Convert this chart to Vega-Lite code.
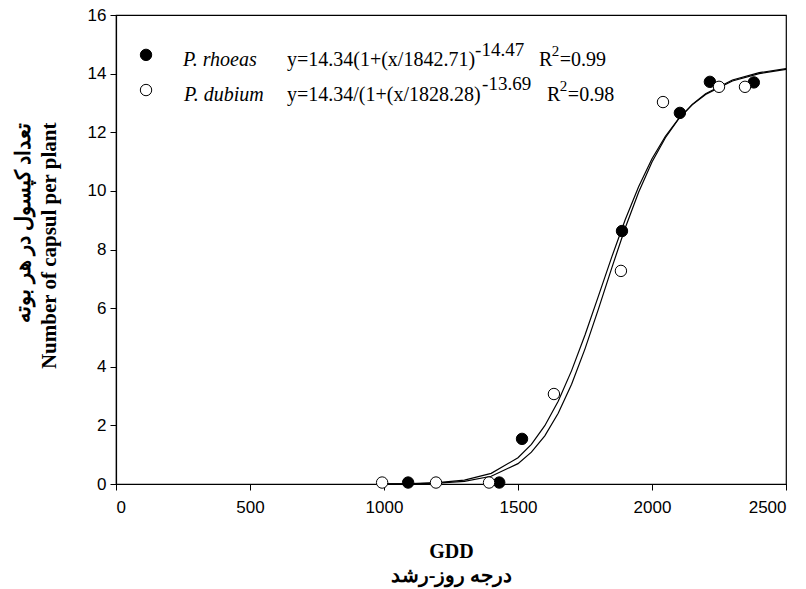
{
  "$schema": "https://vega.github.io/schema/vega-lite/v6.json",
  "width": 670,
  "height": 469,
  "autosize": {"type": "none"},
  "padding": {"left": 116, "top": 15, "right": 20, "bottom": 105},
  "background": "white",
  "view": {"stroke": "black", "strokeWidth": 1.2},
  "config": {
    "axis": {
      "grid": false,
      "domainColor": "black",
      "domainWidth": 1.2,
      "tickColor": "black",
      "tickSize": 6,
      "format": "d",
      "labelFont": "Liberation Sans",
      "labelFontSize": 17,
      "labelColor": "black",
      "titleFont": "Liberation Serif",
      "titleFontWeight": "bold",
      "titleFontSize": 20,
      "titleColor": "black",
      "titleLineHeight": 24
    }
  },
  "datasets": {
    "fit": [
      {"species": "P. rhoeas", "gdd": 1000, "capsule": 0.002},
      {"species": "P. rhoeas", "gdd": 1100, "capsule": 0.008},
      {"species": "P. rhoeas", "gdd": 1200, "capsule": 0.029},
      {"species": "P. rhoeas", "gdd": 1300, "capsule": 0.092},
      {"species": "P. rhoeas", "gdd": 1400, "capsule": 0.264},
      {"species": "P. rhoeas", "gdd": 1500, "capsule": 0.695},
      {"species": "P. rhoeas", "gdd": 1550, "capsule": 1.085},
      {"species": "P. rhoeas", "gdd": 1600, "capsule": 1.645},
      {"species": "P. rhoeas", "gdd": 1650, "capsule": 2.412},
      {"species": "P. rhoeas", "gdd": 1700, "capsule": 3.406},
      {"species": "P. rhoeas", "gdd": 1750, "capsule": 4.61},
      {"species": "P. rhoeas", "gdd": 1800, "capsule": 5.965},
      {"species": "P. rhoeas", "gdd": 1850, "capsule": 7.375},
      {"species": "P. rhoeas", "gdd": 1900, "capsule": 8.733},
      {"species": "P. rhoeas", "gdd": 1950, "capsule": 9.952},
      {"species": "P. rhoeas", "gdd": 2000, "capsule": 10.983},
      {"species": "P. rhoeas", "gdd": 2050, "capsule": 11.814},
      {"species": "P. rhoeas", "gdd": 2100, "capsule": 12.46},
      {"species": "P. rhoeas", "gdd": 2150, "capsule": 12.95},
      {"species": "P. rhoeas", "gdd": 2200, "capsule": 13.315},
      {"species": "P. rhoeas", "gdd": 2300, "capsule": 13.782},
      {"species": "P. rhoeas", "gdd": 2400, "capsule": 14.033},
      {"species": "P. rhoeas", "gdd": 2500, "capsule": 14.169},
      {"species": "P. dubium", "gdd": 1000, "capsule": 0.004},
      {"species": "P. dubium", "gdd": 1100, "capsule": 0.014},
      {"species": "P. dubium", "gdd": 1200, "capsule": 0.045},
      {"species": "P. dubium", "gdd": 1300, "capsule": 0.133},
      {"species": "P. dubium", "gdd": 1400, "capsule": 0.362},
      {"species": "P. dubium", "gdd": 1500, "capsule": 0.895},
      {"species": "P. dubium", "gdd": 1550, "capsule": 1.354},
      {"species": "P. dubium", "gdd": 1600, "capsule": 1.989},
      {"species": "P. dubium", "gdd": 1650, "capsule": 2.826},
      {"species": "P. dubium", "gdd": 1700, "capsule": 3.868},
      {"species": "P. dubium", "gdd": 1750, "capsule": 5.084},
      {"species": "P. dubium", "gdd": 1800, "capsule": 6.408},
      {"species": "P. dubium", "gdd": 1850, "capsule": 7.748},
      {"species": "P. dubium", "gdd": 1900, "capsule": 9.016},
      {"species": "P. dubium", "gdd": 1950, "capsule": 10.143},
      {"species": "P. dubium", "gdd": 2000, "capsule": 11.094},
      {"species": "P. dubium", "gdd": 2050, "capsule": 11.864},
      {"species": "P. dubium", "gdd": 2100, "capsule": 12.469},
      {"species": "P. dubium", "gdd": 2150, "capsule": 12.934},
      {"species": "P. dubium", "gdd": 2200, "capsule": 13.286},
      {"species": "P. dubium", "gdd": 2300, "capsule": 13.747},
      {"species": "P. dubium", "gdd": 2400, "capsule": 14.002},
      {"species": "P. dubium", "gdd": 2500, "capsule": 14.145}
    ],
    "obs": [
      {"species": "P. rhoeas", "gdd": 1090, "capsule": 0.05},
      {"species": "P. rhoeas", "gdd": 1430, "capsule": 0.05},
      {"species": "P. rhoeas", "gdd": 1515, "capsule": 1.54},
      {"species": "P. rhoeas", "gdd": 1888, "capsule": 8.63},
      {"species": "P. rhoeas", "gdd": 2104, "capsule": 12.66},
      {"species": "P. rhoeas", "gdd": 2216, "capsule": 13.72},
      {"species": "P. rhoeas", "gdd": 2380, "capsule": 13.7},
      {"species": "P. dubium", "gdd": 993, "capsule": 0.05},
      {"species": "P. dubium", "gdd": 1194, "capsule": 0.05},
      {"species": "P. dubium", "gdd": 1392, "capsule": 0.05},
      {"species": "P. dubium", "gdd": 1634, "capsule": 3.07},
      {"species": "P. dubium", "gdd": 1884, "capsule": 7.27},
      {"species": "P. dubium", "gdd": 2041, "capsule": 13.03},
      {"species": "P. dubium", "gdd": 2250, "capsule": 13.55},
      {"species": "P. dubium", "gdd": 2347, "capsule": 13.55}
    ],
    "one": [{}]
  },
  "layer": [
    {
      "data": {"name": "fit"},
      "mark": {"type": "line", "color": "black", "strokeWidth": 1.2},
      "encoding": {
        "x": {
          "field": "gdd", "type": "quantitative",
          "scale": {"domain": [0, 2500], "nice": false},
          "axis": {
            "values": [0, 500, 1000, 1500, 2000, 2500],
            "labelPadding": 9,
            "titlePadding": 26,
            "title": ["GDD", "درجه روز-رشد"]
          }
        },
        "y": {
          "field": "capsule", "type": "quantitative",
          "scale": {"domain": [0, 16], "nice": false},
          "axis": {
            "values": [0, 2, 4, 6, 8, 10, 12, 14, 16],
            "labelPadding": 4,
            "titlePadding": 28,
            "titleAnchor": "end",
            "titleAlign": "right",
            "titleY": 107,
            "titleFontSize": 21,
            "titleLineHeight": 26,
            "title": ["تعداد کپسول در هر بوته", "Number of capsul per plant"]
          }
        },
        "detail": {"field": "species"}
      }
    },
    {
      "data": {"name": "obs"},
      "mark": {"type": "point", "shape": "circle", "filled": true, "stroke": "black", "strokeWidth": 1, "size": 130, "opacity": 1},
      "encoding": {
        "x": {"field": "gdd", "type": "quantitative"},
        "y": {"field": "capsule", "type": "quantitative"},
        "fill": {
          "field": "species", "type": "nominal",
          "scale": {"domain": ["P. rhoeas", "P. dubium"], "range": ["black", "white"]},
          "legend": null
        }
      }
    },
    {
      "data": {"name": "one"},
      "mark": {"type": "point", "shape": "circle", "filled": true, "fill": "black", "stroke": "black", "strokeWidth": 1, "size": 130, "opacity": 1},
      "encoding": {"x": {"datum": 112}, "y": {"datum": 14.64}}
    },
    {
      "data": {"name": "one"},
      "mark": {"type": "point", "shape": "circle", "filled": true, "fill": "white", "stroke": "black", "strokeWidth": 1, "size": 130, "opacity": 1},
      "encoding": {"x": {"datum": 112}, "y": {"datum": 13.44}}
    },
    {
      "data": {"name": "one"},
      "mark": {"type": "text", "font": "Liberation Serif", "fontSize": 20, "fontStyle": "italic", "align": "left", "baseline": "middle", "color": "black"},
      "encoding": {"x": {"datum": 250}, "y": {"datum": 14.47}, "text": {"value": "P. rhoeas"}}
    },
    {
      "data": {"name": "one"},
      "mark": {"type": "text", "font": "Liberation Serif", "fontSize": 20, "fontStyle": "italic", "align": "left", "baseline": "middle", "color": "black"},
      "encoding": {"x": {"datum": 254}, "y": {"datum": 13.27}, "text": {"value": "P. dubium"}}
    },
    {
      "data": {"name": "one"},
      "mark": {"type": "text", "font": "Liberation Serif", "fontSize": 20, "align": "left", "baseline": "middle", "color": "black"},
      "encoding": {"x": {"datum": 638}, "y": {"datum": 14.47}, "text": {"value": "y=14.34(1+(x/1842.71)"}}
    },
    {
      "data": {"name": "one"},
      "mark": {"type": "text", "font": "Liberation Serif", "fontSize": 20, "align": "left", "baseline": "middle", "color": "black"},
      "encoding": {"x": {"datum": 638}, "y": {"datum": 13.27}, "text": {"value": "y=14.34/(1+(x/1828.28)"}}
    },
    {
      "data": {"name": "one"},
      "mark": {"type": "text", "font": "Liberation Serif", "fontSize": 19, "align": "left", "baseline": "middle", "color": "black"},
      "encoding": {"x": {"datum": 1340}, "y": {"datum": 14.82}, "text": {"value": "-14.47"}}
    },
    {
      "data": {"name": "one"},
      "mark": {"type": "text", "font": "Liberation Serif", "fontSize": 19, "align": "left", "baseline": "middle", "color": "black"},
      "encoding": {"x": {"datum": 1366}, "y": {"datum": 13.63}, "text": {"value": "-13.69"}}
    },
    {
      "data": {"name": "one"},
      "mark": {"type": "text", "font": "Liberation Serif", "fontSize": 20, "align": "left", "baseline": "middle", "color": "black"},
      "encoding": {"x": {"datum": 1578}, "y": {"datum": 14.47}, "text": {"value": "R"}}
    },
    {
      "data": {"name": "one"},
      "mark": {"type": "text", "font": "Liberation Serif", "fontSize": 15, "align": "left", "baseline": "middle", "color": "black"},
      "encoding": {"x": {"datum": 1626}, "y": {"datum": 14.78}, "text": {"value": "2"}}
    },
    {
      "data": {"name": "one"},
      "mark": {"type": "text", "font": "Liberation Serif", "fontSize": 20, "align": "left", "baseline": "middle", "color": "black"},
      "encoding": {"x": {"datum": 1656}, "y": {"datum": 14.47}, "text": {"value": "=0.99"}}
    },
    {
      "data": {"name": "one"},
      "mark": {"type": "text", "font": "Liberation Serif", "fontSize": 20, "align": "left", "baseline": "middle", "color": "black"},
      "encoding": {"x": {"datum": 1608}, "y": {"datum": 13.27}, "text": {"value": "R"}}
    },
    {
      "data": {"name": "one"},
      "mark": {"type": "text", "font": "Liberation Serif", "fontSize": 15, "align": "left", "baseline": "middle", "color": "black"},
      "encoding": {"x": {"datum": 1656}, "y": {"datum": 13.58}, "text": {"value": "2"}}
    },
    {
      "data": {"name": "one"},
      "mark": {"type": "text", "font": "Liberation Serif", "fontSize": 20, "align": "left", "baseline": "middle", "color": "black"},
      "encoding": {"x": {"datum": 1686}, "y": {"datum": 13.27}, "text": {"value": "=0.98"}}
    }
  ]
}
